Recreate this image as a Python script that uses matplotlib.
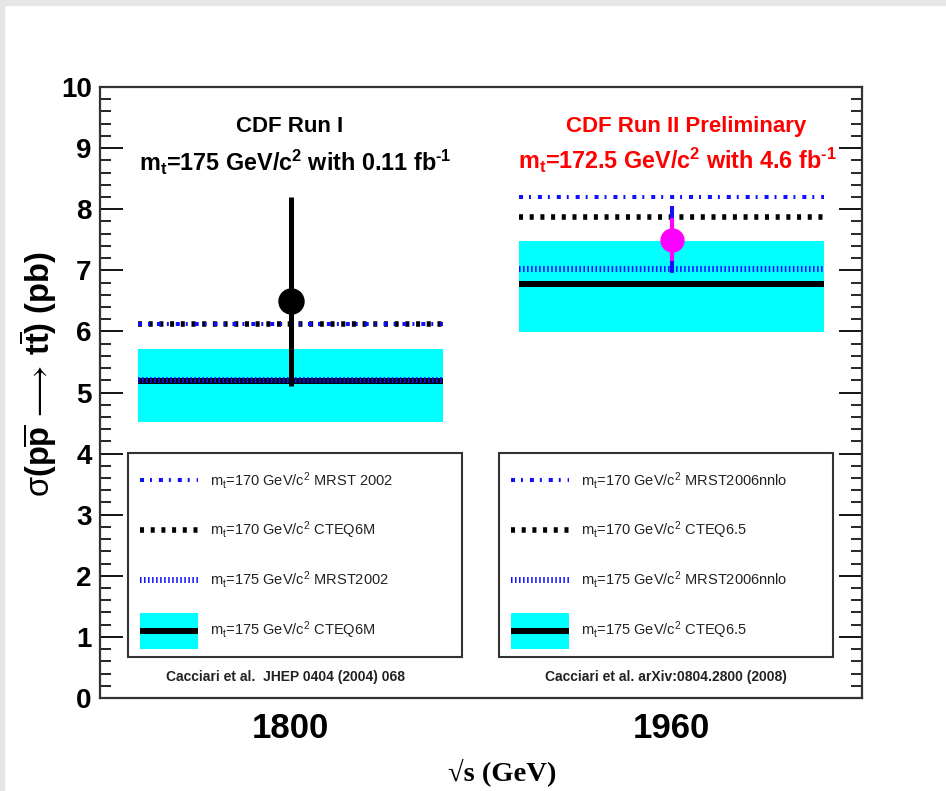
import matplotlib
matplotlib.use("Agg")
import matplotlib.pyplot as plt
from matplotlib.patches import Rectangle
from matplotlib.lines import Line2D

plt.rcParams['font.family'] = ['Liberation Sans', 'DejaVu Sans']
plt.rcParams['mathtext.fontset'] = 'custom'
plt.rcParams['mathtext.rm'] = 'Liberation Sans'
plt.rcParams['mathtext.it'] = 'Liberation Sans'
plt.rcParams['mathtext.bf'] = 'Liberation Sans:bold'
plt.rcParams['mathtext.sf'] = 'Liberation Sans'
plt.rcParams['lines.scale_dashes'] = False

# ---------------- data ----------------
sqrt_s = [1800, 1960]                       # GeV
tick_labels = ['1800', '1960']
# theory: m_t = 175 CTEQ (central + band)
cteq175_central = [5.19, 6.78]
cteq175_low = [4.52, 5.99]
cteq175_high = [5.71, 7.48]
# other theory lines
mrst175 = [5.20, 7.02]
cteq170 = [6.12, 7.87]
mrst170 = [6.12, 8.20]
# measurements
meas_xsec = [6.5, 7.5]
meas_err_up = [1.7, 0.55]
meas_err_down = [1.4, 0.54]
meas_stat_err = [None, 0.35]
meas_color = ['black', 'magenta']

legend_labels_I = [r'm$_\mathrm{t}$=170 GeV/c$^\mathrm{2}$ MRST 2002',
                   r'm$_\mathrm{t}$=170 GeV/c$^\mathrm{2}$ CTEQ6M',
                   r'm$_\mathrm{t}$=175 GeV/c$^\mathrm{2}$ MRST2002',
                   r'm$_\mathrm{t}$=175 GeV/c$^\mathrm{2}$ CTEQ6M']
legend_labels_II = [r'm$_\mathrm{t}$=170 GeV/c$^\mathrm{2}$ MRST2006nnlo',
                    r'm$_\mathrm{t}$=170 GeV/c$^\mathrm{2}$ CTEQ6.5',
                    r'm$_\mathrm{t}$=175 GeV/c$^\mathrm{2}$ MRST2006nnlo',
                    r'm$_\mathrm{t}$=175 GeV/c$^\mathrm{2}$ CTEQ6.5']
citations = ['Cacciari et al.  JHEP 0404 (2004) 068',
             'Cacciari et al. arXiv:0804.2800 (2008)']

# ---------------- styles ----------------
HALF = 64  # half width of theory bands in GeV
sty_cteq175 = dict(color='black', lw=4.3, solid_capstyle='butt')
sty_mrst175 = dict(color='#1010ff', lw=4.3, linestyle=(0, (1.1, 1.8)), dash_capstyle='butt')
sty_cteq170 = dict(color='black', lw=4.0, linestyle=(0, (2.9, 4.8)), dash_capstyle='butt')
sty_mrst170 = dict(color='#1010ff', lw=2.9, linestyle=(0, (2.9, 4.3, 1.4, 5.0)), dash_capstyle='butt')
CYAN = '#00ffff'

W, H = 946, 791
fig = plt.figure(figsize=(W / 100, H / 100), dpi=100)
fig.patch.set_facecolor('white')
# light gray frame strips (top & left)
fig.patches.append(Rectangle((0, 1 - 5 / H), 1, 5 / H, transform=fig.transFigure,
                             color='#e6e6e6', zorder=-10))
fig.patches.append(Rectangle((0, 0), 4 / W, 1, transform=fig.transFigure,
                             color='#e6e6e6', zorder=-10))

AX_L, AX_R, AX_T, AX_B = 100, 862, 87, 698
ax = fig.add_axes([AX_L / W, 1 - AX_B / H, (AX_R - AX_L) / W, (AX_B - AX_T) / H])
ax.set_xlim(1720, 2040)
ax.set_ylim(0, 10)


def axc(px, py):
    return ((px - AX_L) / (AX_R - AX_L), (AX_B - py) / (AX_B - AX_T))


# theory bands and lines
for i, x in enumerate(sqrt_s):
    x0, x1 = x - HALF, x + HALF
    ax.fill_between([x0, x1], cteq175_low[i], cteq175_high[i], color=CYAN, lw=0, zorder=1)
    ax.plot([x0, x1], [cteq175_central[i]] * 2, zorder=2, **sty_cteq175)
    ax.plot([x0, x1], [mrst175[i]] * 2, zorder=3, **sty_mrst175)
    ax.plot([x0, x1], [cteq170[i]] * 2, zorder=4, **sty_cteq170)
    ax.plot([x0, x1], [mrst170[i]] * 2, zorder=5, **sty_mrst170)

# measurements
for i, x in enumerate(sqrt_s):
    if meas_stat_err[i] is None:
        ax.errorbar([x], [meas_xsec[i]], yerr=[[meas_err_down[i]], [meas_err_up[i]]],
                    fmt='o', color=meas_color[i], ms=18, elinewidth=3.6, capsize=0, zorder=7)
    else:
        ax.errorbar([x], [meas_xsec[i]], yerr=[[meas_err_down[i]], [meas_err_up[i]]],
                    fmt='none', ecolor='#1010ff', elinewidth=2.9, capsize=0, zorder=6)
        ax.errorbar([x], [meas_xsec[i]], yerr=[[meas_stat_err[i]], [meas_stat_err[i]]],
                    fmt='o', color=meas_color[i], ms=16.5, elinewidth=3.0, capsize=0, zorder=7)

# axes styling
ax.set_xticks(sqrt_s)
ax.set_xticklabels(tick_labels, fontsize=25, fontweight='bold')
ax.tick_params(axis='x', length=0, pad=10)
ax.set_yticks(range(0, 11))
ax.set_yticks([v / 5 for v in range(0, 51)], minor=True)
ax.set_yticklabels([str(v) for v in range(0, 11)], fontsize=20, fontweight='bold')
ax.tick_params(axis='y', which='major', direction='in', length=16.5, width=1.3,
               right=True, pad=6)
ax.tick_params(axis='y', which='minor', direction='in', length=8, width=1.2, right=True)
for s in ax.spines.values():
    s.set_linewidth(1.6)
    s.set_color('#333333')

HY = '\u2010'
# titles
ax.text(*axc(290, 126), 'CDF Run I', transform=ax.transAxes, ha='center', va='center',
        fontsize=16, fontweight='bold')
ax.text(*axc(295, 162), r'$\mathbf{m_t}$=175 GeV/c$^\mathbf{2}$ with 0.11 fb$^{\mathbf{' + HY + r'1}}$',
        transform=ax.transAxes, ha='center', va='center', fontsize=16.8, fontweight='bold')
ax.text(*axc(686, 126), 'CDF Run II Preliminary', transform=ax.transAxes, ha='center',
        va='center', fontsize=16, fontweight='bold', color='red')
ax.text(*axc(677, 160), r'$\mathbf{m_t}$=172.5 GeV/c$^\mathbf{2}$ with 4.6 fb$^{\mathbf{' + HY + r'1}}$',
        transform=ax.transAxes, ha='center', va='center', fontsize=16.8, fontweight='bold',
        color='red')


# legends (drawn manually, ROOT style)
def draw_legend(box_l, box_r, labels, citation, cit_x):
    box_t, box_b = 453, 657
    (bx0, by0) = axc(box_l, box_b)
    (bx1, by1) = axc(box_r, box_t)
    ax.add_patch(Rectangle((bx0, by0), bx1 - bx0, by1 - by0, transform=ax.transAxes,
                           fill=False, lw=1.5, edgecolor='#333333', zorder=8))
    rows = [480, 530, 580, 630]
    s0, s1 = box_l + 12, box_l + 70
    styles = [sty_mrst170, sty_cteq170, sty_mrst175]
    for r, st in zip(rows[:3], styles):
        p0 = axc(s0, r)
        p1 = axc(s1, r)
        ax.add_line(Line2D([p0[0], p1[0]], [p0[1], p1[1]], transform=ax.transAxes,
                           zorder=9, **st))
    # band entry
    q0 = axc(s0, 649)
    q1 = axc(s1, 613)
    ax.add_patch(Rectangle(q0, q1[0] - q0[0], q1[1] - q0[1], transform=ax.transAxes,
                           color=CYAN, lw=0, zorder=9))
    p0 = axc(s0, 631)
    p1 = axc(s1, 631)
    ax.add_line(Line2D([p0[0], p1[0]], [p0[1], p1[1]], transform=ax.transAxes,
                       zorder=10, **sty_cteq175))
    for r, lab in zip(rows, labels):
        ax.text(*axc(box_l + 82, r), lab, transform=ax.transAxes, ha='left', va='center',
                fontsize=10.5, color='#222222', zorder=10)
    ax.text(*axc(cit_x, 677), citation, transform=ax.transAxes, ha='center', va='center',
            fontsize=10, fontweight='bold', color='#222222')


draw_legend(128, 462, legend_labels_I, citations[0], 285)
draw_legend(499, 833, legend_labels_II, citations[1], 666)

# axis labels
fig.text(38 / W, 1 - 374 / H,
         r'$\sigma\mathbf{(p\overline{p}}\,\longrightarrow\,\mathbf{t\overline{t})}$ (pb)',
         rotation=90, ha='center', va='center', fontsize=23.5, fontweight='bold')
fig.text(502 / W, 1 - 772 / H, '\u221as (GeV)', ha='center', va='center', fontsize=20.5,
         fontweight='bold', family=['Liberation Serif', 'DejaVu Serif'])

fig.savefig('out.png', dpi=100)
